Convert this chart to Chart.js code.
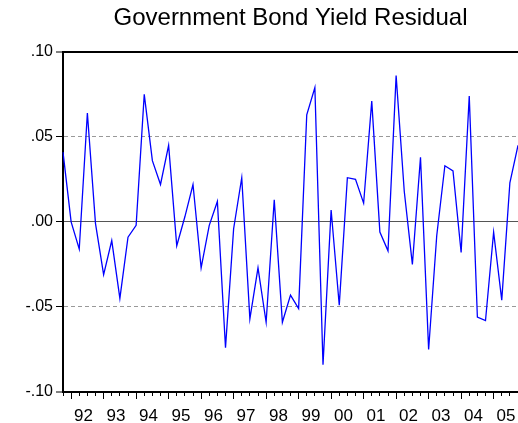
<!DOCTYPE html>
<html>
<head>
<meta charset="utf-8">
<script src="https://cdn.jsdelivr.net/npm/chart.js@4.4.1/dist/chart.umd.min.js"></script>
<style>
  html, body { margin: 0; padding: 0; background: #fff; }
  #wrap { width: 518px; height: 423px; }
</style>
</head>
<body>
<div id="wrap"><canvas id="chart"></canvas></div>
<script>
const chartTitle = 'Government Bond Yield Residual';

// quarterly observations, 1991Q4 - 2005Q4
const quarters = [
  '1991Q4',
  '1992Q1', '1992Q2', '1992Q3', '1992Q4',
  '1993Q1', '1993Q2', '1993Q3', '1993Q4',
  '1994Q1', '1994Q2', '1994Q3', '1994Q4',
  '1995Q1', '1995Q2', '1995Q3', '1995Q4',
  '1996Q1', '1996Q2', '1996Q3', '1996Q4',
  '1997Q1', '1997Q2', '1997Q3', '1997Q4',
  '1998Q1', '1998Q2', '1998Q3', '1998Q4',
  '1999Q1', '1999Q2', '1999Q3', '1999Q4',
  '2000Q1', '2000Q2', '2000Q3', '2000Q4',
  '2001Q1', '2001Q2', '2001Q3', '2001Q4',
  '2002Q1', '2002Q2', '2002Q3', '2002Q4',
  '2003Q1', '2003Q2', '2003Q3', '2003Q4',
  '2004Q1', '2004Q2', '2004Q3', '2004Q4',
  '2005Q1', '2005Q2', '2005Q3', '2005Q4',
];

const residual = [
  0.041,
  0.000, -0.016, 0.064, -0.001,
  -0.031, -0.011, -0.045, -0.009,
  -0.002, 0.075, 0.036, 0.022,
  0.045, -0.014, 0.003, 0.022,
  -0.027, -0.002, 0.012, -0.074,
  -0.004, 0.026, -0.057, -0.027,
  -0.059, 0.013, -0.059, -0.043,
  -0.051, 0.063, 0.079, -0.084,
  0.007, -0.049, 0.026, 0.025,
  0.011, 0.071, -0.006, -0.017,
  0.086, 0.018, -0.025, 0.038,
  -0.075, -0.008, 0.033, 0.030,
  -0.018, 0.074, -0.056, -0.058,
  -0.006, -0.046, 0.023, 0.045,
];

const yTicks = [-0.10, -0.05, 0, 0.05, 0.10];
const yTickLabels = ['-.10', '-.05', '.00', '.05', '.10'];

Chart.defaults.font.family = 'Arial, "Liberation Sans", sans-serif';
Chart.defaults.color = '#000';

const isEdge = v => Math.abs(v) > 0.09;

const ctx = document.getElementById('chart').getContext('2d');
new Chart(ctx, {
  type: 'line',
  data: {
    labels: quarters,
    datasets: [{
      data: residual,
      xAxisID: 'x',
      yAxisID: 'y',
      borderColor: '#0000ff',
      borderWidth: 1.3,
      pointRadius: 0,
      tension: 0,
      fill: false,
    }],
  },
  options: {
    responsive: true,
    maintainAspectRatio: false,
    animation: false,
    layout: { padding: 0 },
    plugins: {
      legend: { display: false },
      tooltip: { enabled: false },
      title: {
        display: true,
        text: chartTitle,
        fullSize: false,
        color: '#000',
        font: { size: 24, weight: 'normal' },
        padding: { top: 4, bottom: 19 },
      },
    },
    scales: {
      x: {
        type: 'category',
        offset: false,
        grid: {
          color: c => c.index === quarters.length - 1 ? '#999' : 'rgba(0,0,0,0)',
          tickColor: '#000',
          tickLength: 4,
          tickWidth: 1,
        },
        border: { color: '#000', width: 2 },
        ticks: {
          autoSkip: false,
          maxRotation: 0,
          labelOffset: -4,
          padding: 10,
          font: { size: 17 },
          callback: (v, i) => quarters[i].endsWith('Q3') ? quarters[i].slice(2, 4) : '',
        },
        afterFit: s => {
          s.height = 31;
          s.paddingLeft = 0;
          s.paddingRight = 0;
        },
      },
      // longer marks at the first quarter of each year
      xq: {
        type: 'category',
        axis: 'x',
        position: { y: -0.1 },
        offset: false,
        grid: {
          drawOnChartArea: false,
          tickLength: 7,
          tickWidth: 1,
          tickColor: c => (quarters[c.index] || '').endsWith('Q1') ? '#000' : 'rgba(0,0,0,0)',
        },
        border: { display: false },
        ticks: { display: false, autoSkip: false },
      },
      y: {
        min: -0.1,
        max: 0.1,
        afterBuildTicks: s => { s.ticks = yTicks.map(v => ({ value: v })); },
        ticks: {
          padding: 3,
          font: { size: 16 },
          callback: (v, i) => yTickLabels[i],
        },
        grid: {
          color: c => {
            const v = c.tick ? c.tick.value : 0;
            if (isEdge(v)) return '#000';
            return v === 0 ? '#555' : '#999';
          },
          lineWidth: c => (c.tick && isEdge(c.tick.value)) ? 2 : 1,
          tickColor: '#000',
          tickLength: 7,
          tickWidth: 1,
        },
        border: {
          color: '#000',
          width: 2,
          dash: c => (c.tick && c.tick.value !== 0 && !isEdge(c.tick.value)) ? [4, 3] : [],
        },
        afterFit: s => { s.width = 63; },
      },
    },
  },
});
</script>
</body>
</html>
